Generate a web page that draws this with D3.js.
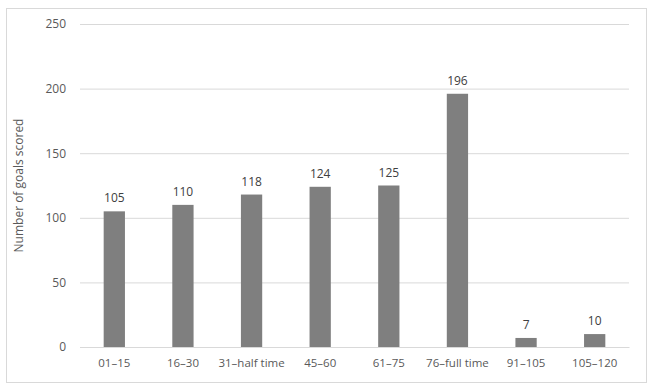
<!DOCTYPE html>
<html>
<head>
<meta charset="utf-8">
<script src="https://cdn.jsdelivr.net/npm/d3@7"></script>
<style>
  body { margin: 0; background: #fff; }
  svg text { font-family: "Open Sans", "DejaVu Sans", sans-serif; }
</style>
</head>
<body>
<script>
"use strict";
(function(){
    // data
    const categories = ["01\u201315", "16\u201330", "31\u2013half time", "45\u201360", "61\u201375", "76\u2013full time", "91\u2013105", "105\u2013120"]
    const goals = [105, 110, 118, 124, 125, 196, 7, 10]
    const yTicks = [0, 50, 100, 150, 200, 250]

    const measurements = {
        width: 651,
        height: 387,
        marginLeft: 80,
        marginRight: 22,
        marginTop: 24,
        marginBottom: 40
    }

    const svgContainer = d3.select("body").append("svg")
        .attr("width", measurements.width)
        .attr("height", measurements.height)

    // outer frame
    svgContainer.append("rect")
        .attr("x", 6.5)
        .attr("y", 8.5)
        .attr("width", 640)
        .attr("height", 374)
        .attr("fill", "#fff")
        .attr("stroke", "#d9d9d9")

    const scaleX = d3.scaleBand()
        .domain(categories)
        .range([measurements.marginLeft, measurements.width - measurements.marginRight])
        .paddingInner(0.69)
        .paddingOuter(0.345)

    const scaleY = d3.scaleLinear()
        .domain([0, 250])
        .range([measurements.height - measurements.marginBottom, measurements.marginTop])

    // gridlines + y labels
    const yAxis = d3.axisLeft(scaleY)
        .tickValues(yTicks)
        .tickSize(-(measurements.width - measurements.marginLeft - measurements.marginRight))
        .tickPadding(14)

    const gy = svgContainer.append("g")
        .attr("transform", "translate(" + measurements.marginLeft + ",0)")
        .call(yAxis)
    gy.select(".domain").remove()
    gy.selectAll(".tick line").attr("stroke", "#d9d9d9")
    gy.selectAll(".tick text")
        .attr("fill", "#595959")
        .style("font-size", "12px")

    // bars
    svgContainer.selectAll(".bar")
        .data(goals)
        .enter()
        .append("rect")
        .attr("class", "bar")
        .attr("x", (d, i) => scaleX(categories[i]))
        .attr("y", d => scaleY(d))
        .attr("width", scaleX.bandwidth())
        .attr("height", d => scaleY(0) - scaleY(d))
        .attr("fill", "#7f7f7f")

    // value labels
    svgContainer.selectAll(".value")
        .data(goals)
        .enter()
        .append("text")
        .attr("class", "value")
        .attr("x", (d, i) => scaleX(categories[i]) + scaleX.bandwidth() / 2)
        .attr("y", d => scaleY(d) - 9)
        .attr("text-anchor", "middle")
        .attr("fill", "#404040")
        .style("font-size", "12px")
        .text(d => d)

    // x axis
    const xAxis = d3.axisBottom(scaleX).tickSize(0).tickPadding(12)
    const gx = svgContainer.append("g")
        .attr("transform", "translate(0," + scaleY(0) + ")")
        .call(xAxis)
    gx.select(".domain").attr("stroke", "#d9d9d9")
    gx.selectAll(".tick text")
        .attr("fill", "#595959")
        .style("font-size", "11.5px")

    // y-axis name
    svgContainer.append("text")
        .attr("transform", "translate(23," + ((scaleY(0) + scaleY(250)) / 2) + ")rotate(-90)")
        .attr("text-anchor", "middle")
        .attr("fill", "#595959")
        .style("font-size", "12px")
        .text("Number of goals scored")
})()
</script>
</body>
</html>
